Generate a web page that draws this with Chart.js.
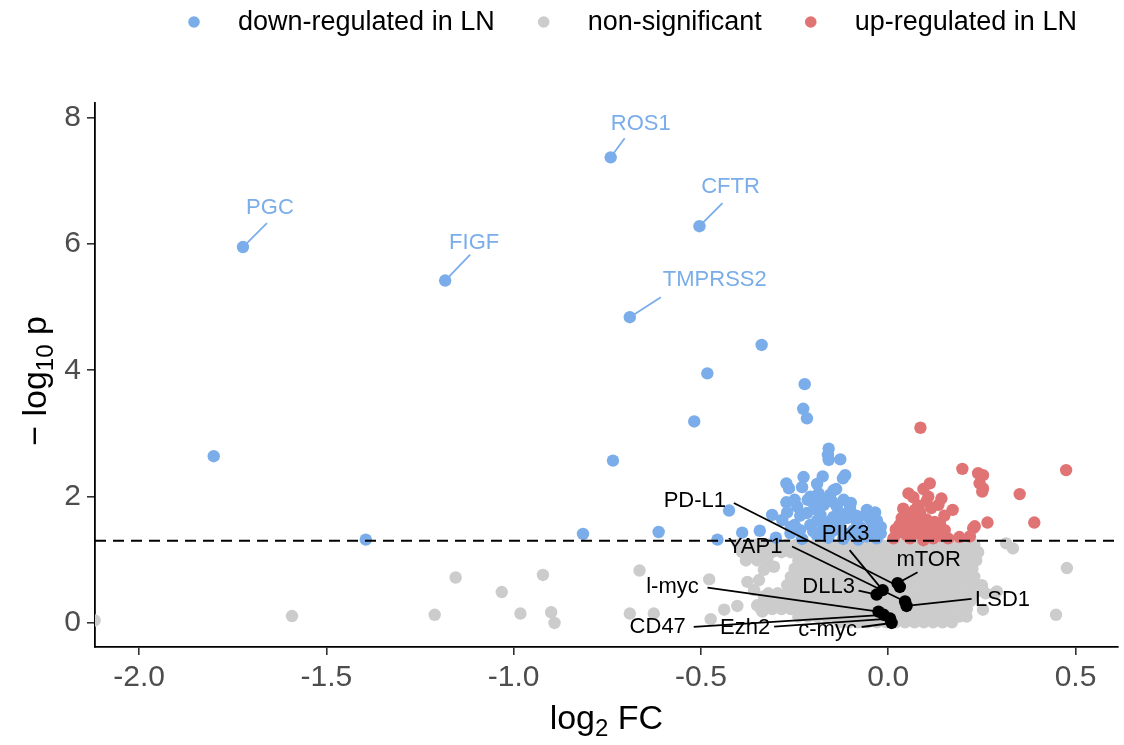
<!DOCTYPE html>
<html>
<head>
<meta charset="utf-8">
<script src="https://cdn.jsdelivr.net/npm/chart.js@4.4.1/dist/chart.umd.min.js"></script>
<style>
  html, body { margin: 0; padding: 0; background: #ffffff; }
  #wrap { width: 1124px; height: 745px; }
</style>
</head>
<body>
<div id="wrap"><canvas id="c" width="1124" height="745"></canvas></div>
<script>
// ---------------- DATA ----------------
const xTicks = [-2.0, -1.5, -1.0, -0.5, 0.0, 0.5];
const yTicks = [0, 2, 4, 6, 8];
const legendLabels = ['down-regulated in LN', 'non-significant', 'up-regulated in LN'];
const pThreshold = 0.05;

// labelled down-regulated genes
const downGenes = ['ROS1', 'PGC', 'FIGF', 'CFTR', 'TMPRSS2'];
const downGeneFC = [-0.741, -1.723, -1.183, -0.504, -0.690];
const downGeneP = [7.37, 5.95, 5.42, 6.28, 4.84];

// other down-regulated genes [log2FC, -log10 p]
const downRegulated = [
  [-1.801, 2.64], [-1.395, 1.32], [-0.815, 1.41], [-0.338, 4.40], [-0.483, 3.95],
  [-0.518, 3.19], [-0.735, 2.57], [-0.425, 1.78], [-0.310, 1.71], [-0.613, 1.44],
  [-0.390, 1.43], [-0.343, 1.46], [-0.456, 1.32], [-0.223, 3.78], [-0.227, 3.39],
  [-0.217, 3.24], [-0.159, 2.76], [-0.161, 2.66], [-0.128, 2.59], [-0.159, 2.58],
  [-0.115, 2.34], [-0.121, 2.29], [-0.226, 2.31], [-0.272, 2.21], [-0.265, 2.13],
  [-0.139, 2.12], [-0.186, 2.05], [-0.208, 2.00], [-0.155, 2.03], [-0.146, 2.10],
  [-0.119, 1.95], [-0.272, 1.91], [-0.243, 1.84], [-0.199, 1.89], [-0.172, 1.87],
  [-0.137, 1.84], [-0.102, 1.84], [-0.057, 1.79], [-0.035, 1.75], [-0.217, 1.74],
  [-0.181, 1.71], [-0.146, 1.68], [-0.110, 1.66], [-0.084, 1.60], [-0.048, 1.63],
  [-0.283, 1.63], [-0.208, 1.55], [-0.172, 1.50], [-0.128, 1.47], [-0.093, 1.47],
  [-0.044, 1.47], [-0.235, 1.47], [-0.261, 1.42], [-0.190, 1.39], [-0.057, 1.37],
  [-0.031, 1.34], [-0.160, 1.35], [-0.120, 1.33], [-0.080, 1.32], [-0.230, 1.33],
  [-0.300, 1.35], [-0.040, 1.55], [-0.060, 1.70], [-0.100, 1.75], [-0.160, 1.60],
  [-0.250, 1.55], [-0.190, 1.62], [-0.130, 1.58], [-0.020, 1.42], [-0.075, 1.52],
  [-0.270, 1.75], [-0.250, 1.95], [-0.215, 1.95], [-0.180, 1.95], [-0.150, 1.92],
  [-0.100, 1.90], [-0.085, 1.70], [-0.120, 1.72], [-0.195, 1.80], [-0.235, 1.70],
  [-0.260, 1.52], [-0.200, 1.45], [-0.150, 1.45], [-0.110, 1.40], [-0.065, 1.44],
  [-0.030, 1.62], [-0.020, 1.52], [-0.230, 2.15], [-0.190, 2.20], [-0.175, 2.32]
];

// up-regulated genes
const upRegulated = [
  [0.086, 3.09], [0.198, 2.44], [0.240, 2.37], [0.253, 2.34], [0.244, 2.21],
  [0.253, 2.13], [0.251, 2.08], [0.475, 2.42], [0.351, 2.04], [0.390, 1.59],
  [0.265, 1.59], [0.231, 1.53], [0.227, 1.50], [0.218, 1.37], [0.172, 1.79],
  [0.111, 2.21], [0.094, 2.12], [0.054, 2.05], [0.067, 1.99], [0.107, 2.00],
  [0.102, 1.92], [0.142, 1.97], [0.134, 1.87], [0.040, 1.81], [0.071, 1.79],
  [0.085, 1.76], [0.036, 1.66], [0.049, 1.64], [0.067, 1.68], [0.085, 1.68],
  [0.102, 1.64], [0.124, 1.60], [0.111, 1.55], [0.045, 1.53], [0.067, 1.50],
  [0.085, 1.52], [0.138, 1.58], [0.023, 1.42], [0.049, 1.39], [0.076, 1.42],
  [0.098, 1.39], [0.129, 1.44], [0.151, 1.47], [0.014, 1.34], [0.058, 1.34],
  [0.094, 1.31], [0.120, 1.34], [0.030, 1.55], [0.060, 1.58], [0.090, 1.60],
  [0.120, 1.50], [0.020, 1.48], [0.050, 1.72], [0.080, 1.86], [0.115, 1.82],
  [0.150, 1.70], [0.140, 1.38], [0.160, 1.34], [0.190, 1.36]
];

// non-significant genes, dense band (row -log10 p, row log2FC values)
const nsRowP = [1.24, 1.12, 0.99, 0.86, 0.73, 0.60, 0.47, 0.35, 0.22, 0.10, 0.01];
const nsRowFC = [
  [-0.400,-0.375,-0.350,-0.320,-0.295,-0.270,-0.245,-0.220,-0.195,-0.170,-0.145,-0.120,-0.095,-0.070,-0.045,-0.020,0.005,0.030,0.055,0.080,0.105,0.130,0.155,0.180,0.205,0.230],
  [-0.390,-0.360,-0.335,-0.310,-0.285,-0.260,-0.235,-0.210,-0.185,-0.160,-0.135,-0.110,-0.085,-0.060,-0.035,-0.010,0.015,0.040,0.065,0.090,0.115,0.140,0.165,0.190,0.215,0.240],
  [-0.380,-0.350,-0.240,-0.215,-0.190,-0.165,-0.140,-0.115,-0.090,-0.065,-0.040,-0.015,0.010,0.035,0.060,0.085,0.110,0.135,0.160,0.185,0.210,0.235],
  [-0.250,-0.225,-0.200,-0.175,-0.150,-0.125,-0.100,-0.075,-0.050,-0.025,0.000,0.025,0.050,0.075,0.100,0.125,0.150,0.175,0.200,0.225],
  [-0.260,-0.235,-0.210,-0.185,-0.160,-0.135,-0.110,-0.085,-0.060,-0.035,-0.010,0.015,0.040,0.065,0.090,0.115,0.140,0.165,0.190,0.215,0.230],
  [-0.270,-0.245,-0.220,-0.195,-0.170,-0.145,-0.120,-0.095,-0.070,-0.045,-0.020,0.005,0.030,0.055,0.080,0.105,0.130,0.155,0.180,0.205,0.230,0.250],
  [-0.320,-0.295,-0.270,-0.245,-0.220,-0.195,-0.170,-0.145,-0.120,-0.095,-0.070,-0.045,-0.020,0.005,0.030,0.055,0.080,0.105,0.130,0.155,0.180,0.205,0.230,0.260,0.285],
  [-0.330,-0.305,-0.280,-0.255,-0.230,-0.205,-0.180,-0.155,-0.130,-0.105,-0.080,-0.055,-0.030,-0.005,0.020,0.045,0.070,0.095,0.120,0.145,0.170,0.195,0.220],
  [-0.340,-0.310,-0.285,-0.260,-0.235,-0.210,-0.185,-0.160,-0.135,-0.110,-0.085,-0.060,-0.035,-0.010,0.015,0.040,0.065,0.090,0.115,0.140,0.165,0.190,0.210],
  [-0.240,-0.215,-0.190,-0.165,-0.140,-0.115,-0.090,-0.065,-0.040,-0.015,0.010,0.035,0.060,0.085,0.110,0.135,0.160,0.190],
  [-0.130,-0.105,-0.080,-0.055,-0.030,-0.005,0.020,0.045,0.070,0.095,0.120,0.145,0.170]
];
// scattered non-significant genes
const nsScatter = [
  [-2.119, 0.04], [-1.592, 0.11], [-1.211, 0.13], [-1.155, 0.72], [-1.032, 0.49],
  [-0.982, 0.15], [-0.922, 0.76], [-0.900, 0.17], [-0.891, 0.00], [-0.664, 0.83],
  [-0.478, 0.69], [-0.690, 0.15], [-0.626, 0.15], [-0.474, 0.06], [-0.438, 0.21],
  [-0.403, 0.27], [-0.376, 0.65], [-0.345, 0.68], [-0.358, 0.52], [-0.332, 0.42],
  [-0.319, 0.31], [-0.350, 0.28], [-0.336, 0.18], [-0.323, 1.00], [-0.305, 0.89],
  [-0.332, 0.84], [0.315, 1.26], [0.333, 1.18], [0.477, 0.87], [0.448, 0.13],
  [0.253, 0.21], [0.209, 0.10], [0.290, 0.50], [0.250, 0.55]
];

// highlighted genes of interest
const focusGenes = ['DLL3', 'PIK3', 'mTOR', 'PD-L1', 'YAP1', 'LSD1', 'l-myc', 'CD47', 'Ezh2', 'c-myc'];
const focusFC = [-0.031, -0.015, 0.025, 0.031, 0.045, 0.049, -0.026, -0.012, 0.005, 0.009];
const focusP = [0.45, 0.52, 0.63, 0.57, 0.34, 0.27, 0.18, 0.13, 0.07, 0.00];

// ---------------- STYLE / LAYOUT ----------------
const COL_DOWN = '#7AADE9';
const COL_NS = '#CCCCCC';
const COL_UP = '#E07474';
const FONT = '"Liberation Sans", Arial, sans-serif';
const PT_R = 6.2;
// label text-centre offset (dx,dy) and segment end offset (lx,ly) in pixels, relative to the point
const labelLayout = {
  'ROS1': [30, -33, 14, -19], 'PGC': [27, -39, 24, -24], 'FIGF': [29, -38, 25, -26],
  'CFTR': [31, -39, 23, -23], 'TMPRSS2': [85, -37, 31, -20],
  'DLL3': [-48, -8, -18, -4], 'PIK3': [-37, -56, -33, -40], 'mTOR': [31, -23, 20, -11],
  'PD-L1': [-205, -86, -166, -84], 'YAP1': [-150, -55, -113, -55], 'LSD1': [96, -6, 65, -7],
  'l-myc': [-206, -25, -171, -24], 'CD47': [-226, 12, -190, 12], 'Ezh2': [-145, 9, -116, 8],
  'c-myc': [-64, 7, -30, 4]
};

const toPts = arr => arr.map(d => ({ x: d[0], y: d[1] }));
const nsPoints = [];
nsRowP.forEach((p, i) => nsRowFC[i].forEach(fc => nsPoints.push({ x: fc, y: p })));
nsScatter.forEach(d => nsPoints.push({ x: d[0], y: d[1] }));
const downPoints = downGeneFC.map((v, i) => ({ x: v, y: downGeneP[i] })).concat(toPts(downRegulated));
const focusPoints = focusFC.map((v, i) => ({ x: v, y: focusP[i] }));
const cutoff = -Math.log10(pThreshold);

const xMin = -2.118, xMax = 0.613, yMin = -0.38, yMax = 8.23;

// ---------------- PLUGINS ----------------
const overlayPlugin = {
  id: 'overlay',
  afterDraw(chart) {
    const ctx = chart.ctx;
    const xs = chart.scales.x, ys = chart.scales.y;
    ctx.save();
    // gene labels
    ctx.font = '22px ' + FONT;
    ctx.textAlign = 'center';
    ctx.textBaseline = 'middle';
    const drawLabels = (names, fcs, ps, color) => {
      names.forEach((n, i) => {
        const L = labelLayout[n];
        const px = xs.getPixelForValue(fcs[i]);
        const py = ys.getPixelForValue(ps[i]);
        ctx.strokeStyle = color;
        ctx.lineWidth = 1.8;
        ctx.beginPath();
        ctx.moveTo(px, py);
        ctx.lineTo(px + L[2], py + L[3]);
        ctx.stroke();
        ctx.fillStyle = color;
        ctx.fillText(n, px + L[0], py + L[1]);
      });
    };
    drawLabels(downGenes, downGeneFC, downGeneP, COL_DOWN);
    drawLabels(focusGenes, focusFC, focusP, '#000000');

    // axis titles
    ctx.fillStyle = '#000000';
    ctx.textBaseline = 'alphabetic';
    const drawSub = (parts, cx, cy) => {
      let w = 0;
      parts.forEach(p => { ctx.font = p[1] + 'px ' + FONT; w += ctx.measureText(p[0]).width; });
      let x = cx - w / 2;
      ctx.textAlign = 'left';
      parts.forEach(p => {
        ctx.font = p[1] + 'px ' + FONT;
        ctx.fillText(p[0], x, cy + p[2]);
        x += ctx.measureText(p[0]).width;
      });
    };
    drawSub([['log', 34, 0], ['2', 24, 7], [' FC', 34, 0]], (chart.chartArea.left + chart.chartArea.right) / 2, 729);
    ctx.save();
    ctx.translate(46, (chart.chartArea.top + chart.chartArea.bottom) / 2 + 6);
    ctx.rotate(-Math.PI / 2);
    drawSub([['\u2212 log', 34, 0], ['10', 24, 7], [' p', 34, 0]], 0, 0);
    ctx.restore();

    // legend
    const colors = [COL_DOWN, COL_NS, COL_UP];
    ctx.font = '27px ' + FONT;
    ctx.textBaseline = 'middle';
    ctx.textAlign = 'left';
    let lx = 194;
    legendLabels.forEach((t, i) => {
      ctx.fillStyle = colors[i];
      ctx.beginPath();
      ctx.arc(lx, 22, 5.8, 0, Math.PI * 2);
      ctx.fill();
      ctx.fillStyle = '#000000';
      ctx.fillText(t, lx + 44, 23);
      lx += 44 + ctx.measureText(t).width + 49;
    });
    ctx.restore();
  }
};

// ---------------- CHART ----------------
const tickFont = { family: FONT, size: 30 };
new Chart(document.getElementById('c'), {
  type: 'scatter',
  data: {
    datasets: [
      { label: 'cutoff', type: 'line', data: [{ x: xMin, y: cutoff }, { x: xMax, y: cutoff }],
        borderColor: '#000000', borderWidth: 2, borderDash: [11, 7], pointRadius: 0, order: 0 },
      { label: 'highlight', data: focusPoints, backgroundColor: '#000000', pointRadius: PT_R, borderWidth: 0, order: 1 },
      { label: legendLabels[0], data: downPoints, backgroundColor: COL_DOWN, pointRadius: PT_R, borderWidth: 0, order: 2 },
      { label: legendLabels[2], data: toPts(upRegulated), backgroundColor: COL_UP, pointRadius: PT_R, borderWidth: 0, order: 3 },
      { label: legendLabels[1], data: nsPoints, backgroundColor: COL_NS, pointRadius: PT_R, borderWidth: 0, order: 4 }
    ]
  },
  options: {
    responsive: false,
    animation: false,
    devicePixelRatio: 1,
    layout: { padding: { top: 103, right: 2, left: 0, bottom: 0 } },
    plugins: { legend: { display: false }, tooltip: { enabled: false } },
    scales: {
      x: {
        type: 'linear', min: xMin, max: xMax,
        afterBuildTicks: s => { s.ticks = xTicks.map(v => ({ value: v })); },
        afterFit: s => { s.height = 98; },
        ticks: { font: tickFont, color: '#4D4D4D', padding: 5, maxRotation: 0,
                 callback: v => v.toFixed(1) },
        grid: { drawOnChartArea: false, drawTicks: true, tickLength: 8, color: '#333333', lineWidth: 1.6 },
        border: { display: true, color: '#000000', width: 1.8 }
      },
      y: {
        type: 'linear', min: yMin, max: yMax,
        afterBuildTicks: s => { s.ticks = yTicks.map(v => ({ value: v })); },
        afterFit: s => { s.width = 95; },
        ticks: { font: tickFont, color: '#4D4D4D', padding: 6, callback: v => String(v) },
        grid: { drawOnChartArea: false, drawTicks: true, tickLength: 8, color: '#333333', lineWidth: 1.6 },
        border: { display: true, color: '#000000', width: 1.8 }
      }
    }
  },
  plugins: [overlayPlugin]
});
</script>
</body>
</html>
